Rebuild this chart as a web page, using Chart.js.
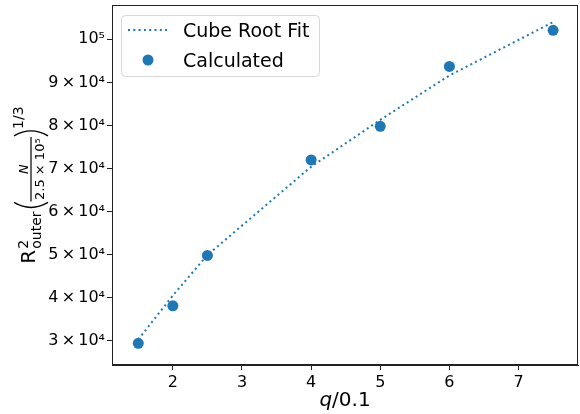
<!DOCTYPE html>
<html>
<head>
<meta charset="utf-8">
<script src="https://cdn.jsdelivr.net/npm/chart.js@4.4.0/dist/chart.umd.min.js"></script>
<style>
  html, body { margin: 0; padding: 0; background: #fff; }
</style>
</head>
<body>
<canvas id="chart" width="580" height="414"></canvas>
<script>
// q/0.1 values and the two series
const qValues = [1.5, 2, 2.5, 4, 5, 6, 7.5];
const fitValues = [30300, 40500, 49900, 70400, 81300, 91600, 104000];
const calcValues = [29400, 38100, 49800, 72000, 79800, 93700, 102100];

const xTicks = [2, 3, 4, 5, 6, 7];
const yTicks = [30000, 40000, 50000, 60000, 70000, 80000, 90000, 100000];
const yTickLabels = ['3\u2009×\u200910⁴', '4\u2009×\u200910⁴', '5\u2009×\u200910⁴', '6\u2009×\u200910⁴',
                     '7\u2009×\u200910⁴', '8\u2009×\u200910⁴', '9\u2009×\u200910⁴', '10⁵'];

const BLUE = '#1f77b4';
const FONT = '"DejaVu Sans"';

function toPoints(xs, ys) {
  return xs.map((x, i) => ({ x: x, y: ys[i] }));
}

// keep the plot box fixed: no extra room for edge labels
function noPadding(s) {
  s.paddingTop = 0; s.paddingBottom = 0; s.paddingLeft = 0; s.paddingRight = 0;
}

// y axis label: R^2_outer (N / 2.5x10^5)^(1/3), drawn rotated
function drawYTitle(ctx, cx, cy) {
  const big = '20px ' + FONT;
  const mid = '14px ' + FONT;
  const small = '13px ' + FONT;
  const den = '2.5 × 10⁵';
  ctx.save();
  ctx.font = big; const wR = ctx.measureText('R').width;
  ctx.font = mid; const wSub = Math.max(ctx.measureText('2').width, ctx.measureText('outer').width);
  ctx.font = small; const wDen = ctx.measureText(den).width;
  ctx.font = mid; const wExp = ctx.measureText('1/3').width;
  const wP = 8;
  const wFrac = wDen + 3;
  const total = wR + 1 + wSub + 2 + wP + wFrac + wP + wExp;

  ctx.translate(cx, cy);
  ctx.rotate(-Math.PI / 2);
  ctx.fillStyle = '#000';
  ctx.strokeStyle = '#000';
  ctx.textAlign = 'left';
  ctx.textBaseline = 'alphabetic';
  let u = -total / 2;
  const axis = -4;

  ctx.font = big;
  ctx.fillText('R', u, 0);
  u += wR + 1;
  ctx.font = mid;
  ctx.fillText('2', u, -7);
  ctx.fillText('outer', u, 6);
  u += wSub + 2;

  // left paren
  ctx.lineWidth = 1.4;
  ctx.beginPath();
  ctx.moveTo(u + wP - 1, axis - 17);
  ctx.quadraticCurveTo(u - 3, axis, u + wP - 1, axis + 17);
  ctx.stroke();
  u += wP;

  // fraction
  ctx.lineWidth = 1.2;
  ctx.beginPath();
  ctx.moveTo(u, axis);
  ctx.lineTo(u + wFrac, axis);
  ctx.stroke();
  ctx.font = 'italic 13px ' + FONT;
  ctx.textAlign = 'center';
  ctx.fillText('N', u + wFrac / 2, axis - 3);
  ctx.font = small;
  ctx.fillText(den, u + wFrac / 2, axis + 13);
  ctx.textAlign = 'left';
  u += wFrac;

  // right paren
  ctx.lineWidth = 1.4;
  ctx.beginPath();
  ctx.moveTo(u + 1, axis - 17);
  ctx.quadraticCurveTo(u + wP + 3, axis, u + 1, axis + 17);
  ctx.stroke();
  u += wP;

  ctx.font = mid;
  ctx.fillText('1/3', u, -12);
  ctx.restore();
}

const extras = {
  id: 'extras',
  afterDraw(chart) {
    const ctx = chart.ctx;
    const a = chart.chartArea;

    // full frame
    ctx.save();
    ctx.strokeStyle = '#222';
    ctx.lineWidth = 1;
    ctx.strokeRect(Math.round(a.left) + 0.5, Math.round(a.top) + 0.5,
                   Math.round(a.right - a.left) - 1, Math.round(a.bottom - a.top) - 1);
    ctx.restore();

    // x title: q/0.1 with italic q
    ctx.save();
    ctx.fillStyle = '#000';
    ctx.textBaseline = 'alphabetic';
    ctx.font = 'italic 20px ' + FONT;
    const wq = ctx.measureText('q').width;
    ctx.font = '20px ' + FONT;
    const wr = ctx.measureText('/0.1').width;
    const x0 = (a.left + a.right) / 2 - (wq + wr) / 2;
    ctx.font = 'italic 20px ' + FONT;
    ctx.fillText('q', x0, 406);
    ctx.font = '20px ' + FONT;
    ctx.fillText('/0.1', x0 + wq, 406);
    ctx.restore();

    drawYTitle(ctx, 35, (a.top + a.bottom) / 2);

    // legend
    const ds = chart.data.datasets;
    ctx.save();
    ctx.beginPath();
    ctx.roundRect(121.5, 15.5, 198, 61, 4);
    ctx.fillStyle = 'rgba(255,255,255,0.8)';
    ctx.fill();
    ctx.strokeStyle = '#d6d6d6';
    ctx.lineWidth = 1;
    ctx.stroke();

    ctx.strokeStyle = ds[0].borderColor;
    ctx.lineWidth = ds[0].borderWidth;
    ctx.setLineDash(ds[0].borderDash);
    ctx.beginPath();
    ctx.moveTo(128, 30);
    ctx.lineTo(167, 30);
    ctx.stroke();
    ctx.setLineDash([]);

    ctx.fillStyle = ds[1].backgroundColor;
    ctx.beginPath();
    ctx.arc(148, 60, ds[1].pointRadius, 0, Math.PI * 2);
    ctx.fill();

    ctx.fillStyle = '#000';
    ctx.font = '19px ' + FONT;
    ctx.textBaseline = 'alphabetic';
    ctx.fillText(ds[0].label, 183, 37);
    ctx.fillText(ds[1].label, 183, 67);
    ctx.restore();
  }
};

const tickFont = { family: FONT, size: 16 };

new Chart(document.getElementById('chart'), {
  type: 'scatter',
  data: {
    datasets: [{
      label: 'Cube Root Fit',
      data: toPoints(qValues, fitValues),
      showLine: true,
      borderColor: BLUE,
      borderWidth: 2,
      borderDash: [2, 3.3],
      pointRadius: 0,
      fill: false
    }, {
      label: 'Calculated',
      data: toPoints(qValues, calcValues),
      showLine: false,
      backgroundColor: BLUE,
      borderColor: BLUE,
      borderWidth: 0,
      pointRadius: 5.5,
      pointHoverRadius: 5.5
    }]
  },
  options: {
    responsive: false,
    animation: false,
    events: [],
    layout: { autoPadding: false, padding: { top: 5, right: 2, left: 0, bottom: 0 } },
    plugins: { legend: { display: false }, tooltip: { enabled: false } },
    scales: {
      x: {
        type: 'linear',
        min: 1.12,
        max: 7.86,
        afterBuildTicks: s => { s.ticks = xTicks.map(v => ({ value: v })); },
        afterFit: s => { s.height = 49; noPadding(s); },
        ticks: { font: tickFont, color: '#000', padding: 3, maxRotation: 0, autoSkip: false },
        grid: { drawOnChartArea: false, drawTicks: true, tickLength: 5, tickColor: '#222', tickWidth: 1 },
        border: { color: '#222', width: 1 }
      },
      y: {
        type: 'linear',
        min: 24360,
        max: 107970,
        afterBuildTicks: s => { s.ticks = yTicks.map(v => ({ value: v })); },
        afterFit: s => { s.width = 112; noPadding(s); },
        ticks: {
          font: tickFont, color: '#000', padding: 2, autoSkip: false,
          callback: v => yTickLabels[yTicks.indexOf(v)]
        },
        grid: { drawOnChartArea: false, drawTicks: true, tickLength: 5, tickColor: '#222', tickWidth: 1 },
        border: { color: '#222', width: 1 }
      }
    }
  },
  plugins: [extras]
});
</script>
</body>
</html>
